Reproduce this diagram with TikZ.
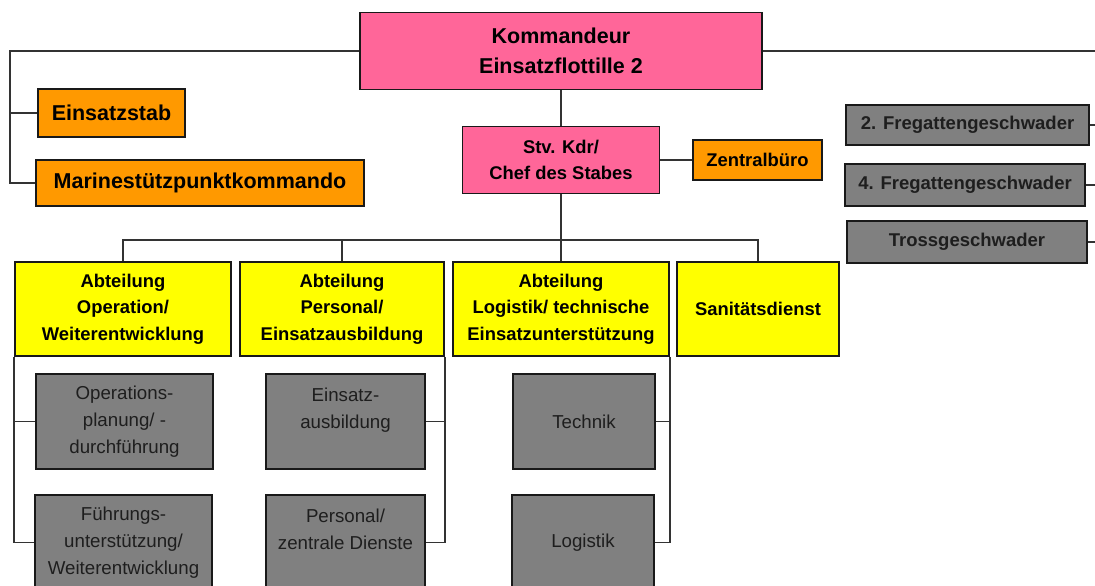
\documentclass[tikz,border=0pt]{standalone}
\usepackage{fontspec}
\setmainfont{Liberation Sans}
\usetikzlibrary{positioning}
\definecolor{kdrpink}{HTML}{FF6699}
\definecolor{stborange}{HTML}{FF9900}
\definecolor{ablyellow}{HTML}{FFFF00}
\definecolor{unitgrey}{HTML}{808080}
\definecolor{linegrey}{HTML}{333333}
\definecolor{textgrey}{HTML}{1E1E1E}
\tikzset{box/.style={draw=black!90, line width=1.8pt, align=center, inner sep=2pt},
  kdr node/.style={box, fill=kdrpink, font=\bfseries\fontsize{21.5}{30}\selectfont},
  stv node/.style={box, fill=kdrpink, font=\bfseries\fontsize{18.4}{26.7}\selectfont},
  stab node/.style={box, fill=stborange, font=\bfseries\fontsize{21.5}{26.7}\selectfont},
  buero node/.style={box, fill=stborange, font=\bfseries\fontsize{18.4}{26.7}\selectfont},
  gesch node/.style={box, fill=unitgrey, text=textgrey, font=\bfseries\fontsize{18.5}{26.7}\selectfont},
  abt node/.style={box, fill=ablyellow, minimum height=94pt, font=\bfseries\fontsize{18.4}{26.7}\selectfont},
  sub node/.style={box, fill=unitgrey, text=textgrey, minimum height=95pt, font=\fontsize{18.7}{26.7}\selectfont},
  conn/.style={draw=linegrey, line width=1.3pt},}

\begin{document}
\begin{tikzpicture}[x=1pt, y=-1pt]
        \clip (0,0) rectangle (1095,586);
        % Nodes
        \node[kdr node, minimum width=402pt, minimum height=77pt] (kdr) at (561,51) {Kommandeur\\Einsatzflottille 2};
        \node[stab node, minimum width=147pt, minimum height=48pt] (esb) at (111.5,113) {Einsatzstab};
        \node[stab node, minimum width=328pt, minimum height=46pt] (msk) at (200,183) {Marinestützpunktkommando};
        \node[stv node, minimum width=197pt, minimum height=67pt] (stv) at (561,160) {Stv. Kdr/\\Chef des Stabes};
        \node[buero node, minimum width=129pt, minimum height=40pt] (zb) at (757.5,160) {Zentralbüro};
        \node[gesch node, minimum width=243pt, minimum height=40pt] (fg2) at (967.5,125) {2. Fregattengeschwader};
        \node[gesch node, minimum width=240pt, minimum height=42pt] (fg4) at (965,185) {4. Fregattengeschwader};
        \node[gesch node, minimum width=240pt, minimum height=42pt] (tross) at (967,242) {Trossgeschwader};
        \node[abt node, minimum width=216pt] (ab1) at (123,309) {Abteilung\\Operation/\\Weiterentwicklung};
        \node[abt node, minimum width=204pt] (ab2) at (342,309) {Abteilung\\Personal/\\Einsatzausbildung};
        \node[abt node, minimum width=216pt] (ab3) at (561,309) {Abteilung\\Logistik/ technische\\Einsatzunterstützung};
        \node[abt node, minimum width=162pt] (ab4) at (758,309) {Sanitätsdienst};
        \node[sub node, minimum width=177pt] (op) at (124.5,421.5) {Operations-\\planung/ -\\durchführung};
        \node[sub node, minimum width=177pt] (fu) at (123.5,542.5) {Führungs-\\unterstützung/\\Weiterentwicklung};
        \node[sub node, minimum width=159pt] (ea) at (345.5,421.5) {Einsatz-\\ausbildung\\\mbox{}};
        \node[sub node, minimum width=159pt] (pz) at (345.5,542.5) {Personal/\\zentrale Dienste\\\mbox{}};
        \node[sub node, minimum width=142pt] (te) at (584,421.5) {Technik};
        \node[sub node, minimum width=142pt] (lo) at (583,542.5) {Logistik};
        \coordinate (lbus) at (10,51);
        \coordinate (rbus) at (1095,51);
        \coordinate (bus) at (561,240);
        % Paths
        \path[conn]
        (kdr.west) -- (lbus) |- (msk.west)
        (esb.west) -- (esb.west -| lbus)
        (kdr.east) -- (rbus)
        (fg2.east) -- (fg2.east -| rbus)
        (fg4.east) -- (fg4.east -| rbus)
        (tross.east) -- (tross.east -| rbus)
        (kdr.south) -- (stv.north)
        (stv.east) -- (zb.west)
        (stv.south) -- (bus)
        (ab1.north) -- (ab1.north |- bus) -- (ab4.north |- bus) -- (ab4.north)
        (ab2.north) -- (ab2.north |- bus)
        (ab3.north) -- (ab3.north |- bus)
        (ab1.south west) |- (op.west)
        (ab1.south west) |- (fu.west)
        (ab2.south east) |- (ea.east)
        (ab2.south east) |- (pz.east)
        (ab3.south east) |- (te.east)
        (ab3.south east) |- (lo.east);
    \end{tikzpicture}
\end{document}
